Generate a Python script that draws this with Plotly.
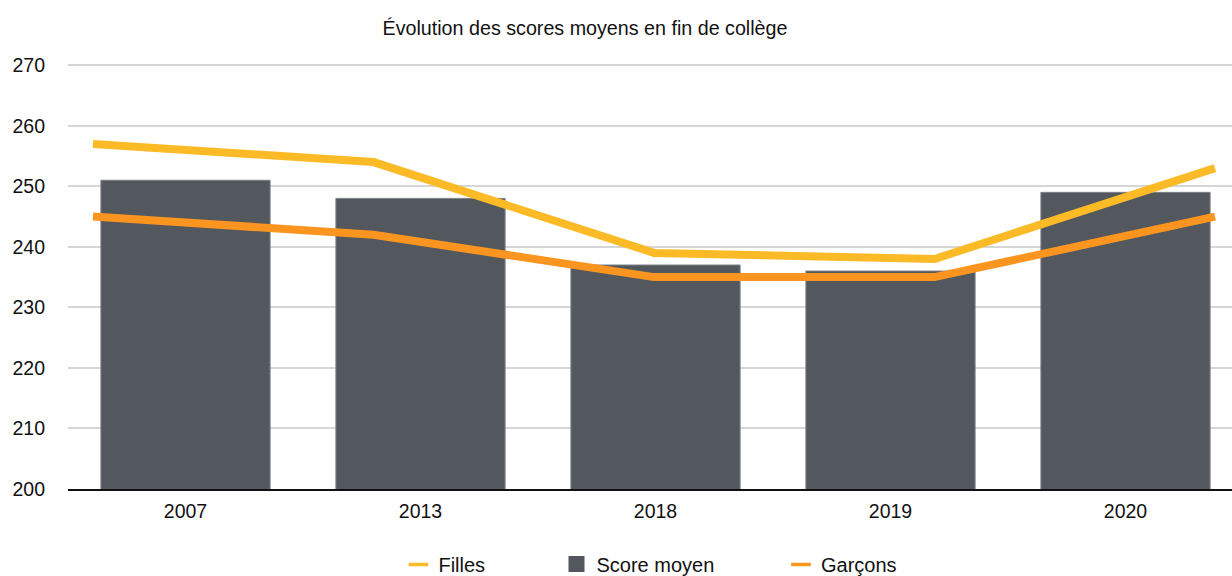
import plotly.graph_objects as go

# Données : scores moyens en fin de collège
annees = ["2007", "2013", "2018", "2019", "2020"]
score_moyen = [251, 248, 237, 236, 249]
filles = [257, 254, 239, 238, 253]
garcons = [245, 242, 235, 235, 245]
y_ticks = [200, 210, 220, 230, 240, 250, 260, 270]

FONT = "Liberation Sans, Helvetica, Arial, sans-serif"
C_BAR = "#53575e"
C_FILLES = "#fbba26"
C_GARCONS = "#fc9520"

fig = go.Figure()

fig.add_trace(go.Bar(
    x=annees, y=score_moyen, name="Score moyen",
    marker=dict(color=C_BAR, line=dict(color="#7d8085", width=1)),
    width=0.72, showlegend=False, xaxis="x", yaxis="y",
))
fig.add_trace(go.Scatter(
    x=annees, y=garcons, name="Garçons", mode="lines",
    line=dict(color=C_GARCONS, width=8), showlegend=False,
    xaxis="x2", yaxis="y",
))
fig.add_trace(go.Scatter(
    x=annees, y=filles, name="Filles", mode="lines",
    line=dict(color=C_FILLES, width=8), showlegend=False,
    xaxis="x2", yaxis="y",
))

# Légende : une entrée par légende, pour placer chaque élément librement
legend_items = [
    ("Filles", dict(symbol="line-ew", size=14, line=dict(color=C_FILLES, width=3.5)), "legend", 0.3234, 0.020),
    ("Score moyen", dict(symbol="square", size=18, color=C_BAR, line=dict(width=0)), "legend2", 0.4517, 0.021),
    ("Garçons", dict(symbol="line-ew", size=14, line=dict(color=C_GARCONS, width=3.5)), "legend3", 0.6339, 0.020),
]
legend_layout = {}
for name, marker, lg, lx, ly in legend_items:
    fig.add_trace(go.Scatter(
        x=[None], y=[None], mode="markers", name=name, marker=marker,
        legend=lg, showlegend=True, xaxis="x", yaxis="y",
    ))
    legend_layout[lg] = dict(
        x=lx, y=ly, xref="container", yref="container",
        xanchor="left", yanchor="middle", orientation="h",
        bgcolor="rgba(0,0,0,0)", borderwidth=0,
        font=dict(family=FONT, size=20, color="#111111"),
        itemwidth=30,
    )

n_px_plot = 1232 - 68
fig.update_layout(
    width=1232, height=576,
    margin=dict(l=68, r=0, t=64, b=87, pad=0),
    paper_bgcolor="white", plot_bgcolor="white",
    font=dict(family=FONT, size=19.5, color="#111111"),
    title=dict(
        text="Évolution des scores moyens en fin de collège",
        x=585 / 1232, xref="container", xanchor="center",
        y=1 - 28 / 576, yref="container", yanchor="middle",
        font=dict(family=FONT, size=19.7, color="#111111"),
    ),
    xaxis=dict(
        type="category", categoryorder="array", categoryarray=annees,
        range=[-0.5, -0.5 + n_px_plot / 235],
        showgrid=False, zeroline=False,
        showline=True, linecolor="#111111", linewidth=2,
        ticks="", ticklabelstandoff=4,
        tickfont=dict(family=FONT, size=19.5, color="#111111"),
    ),
    xaxis2=dict(
        type="category", categoryorder="array", categoryarray=annees,
        overlaying="x", visible=False,
        range=[-25 / 280.5, -25 / 280.5 + n_px_plot / 280.5],
    ),
    yaxis=dict(
        range=[200, 270.2], tickvals=y_ticks,
        showgrid=True, gridcolor="#d6d6d6", gridwidth=1.5,
        zeroline=False, showline=False, ticks="",
        ticklabelstandoff=22,
        tickfont=dict(family=FONT, size=19.5, color="#111111"),
    ),
    bargap=0.28,
    **legend_layout,
)

fig.write_html("out.html")
